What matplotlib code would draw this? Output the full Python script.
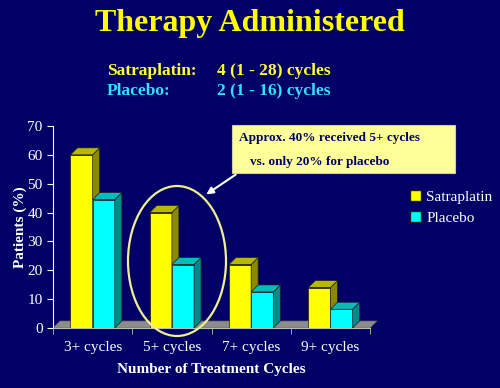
"""Therapy administered: 3D-style grouped bars on a navy slide background."""

import matplotlib

matplotlib.use("Agg")
import matplotlib.pyplot as plt
from matplotlib.patches import Ellipse, Patch, Polygon, Rectangle

categories = ["3+ cycles", "5+ cycles", "7+ cycles", "9+ cycles"]
satraplatin = [60, 40, 22, 14]
placebo = [44.5, 22, 12.5, 6.5]
y_ticks = [0, 10, 20, 30, 40, 50, 60, 70]

BG = "#000066"
SERIF = ["Liberation Serif", "DejaVu Serif"]
W, H = 500, 388


def fx(px):
    return px / W


def fy(py):
    return 1 - py / H


def bar3d(ax, x, width, height, front, top, side, dx, dy, z):
    ax.add_patch(Rectangle((x, 0), width, height, facecolor=front,
                           edgecolor="#202020", linewidth=0.5, zorder=z))
    ax.add_patch(Polygon([(x + width, 0), (x + width + dx, dy),
                          (x + width + dx, height + dy), (x + width, height)],
                         closed=True, facecolor=side, edgecolor="#202020",
                         linewidth=0.5, zorder=z))
    ax.add_patch(Polygon([(x, height), (x + dx, height + dy),
                          (x + width + dx, height + dy), (x + width, height)],
                         closed=True, facecolor=top, edgecolor="#202020",
                         linewidth=0.5, zorder=z))


fig = plt.figure(figsize=(5, 3.88), dpi=100, facecolor=BG)
ax = fig.add_axes([fx(53), fy(328), fx(370) - fx(53), fy(126) - fy(328)])
ax.set_facecolor("none")
ax.set_xlim(-0.5, 3.5)
ax.set_ylim(0, 70)

# depth of the fake 3D in data units (about 7 px each way)
dx = 7 / 79
dy = 7 / 2.886

ax.add_patch(Polygon([(-0.5, 0), (-0.5 + dx, dy), (3.5 + dx, dy), (3.5, 0)],
                     closed=True, facecolor="#8c8c8c", edgecolor="#606060",
                     linewidth=0.5, zorder=1, clip_on=False))

bw = 0.28
for i, (s, p) in enumerate(zip(satraplatin, placebo)):
    bar3d(ax, i - bw, bw, s, "#ffff00", "#b8b800", "#8a8a00", dx, dy, 2 + 2 * i)
    bar3d(ax, i, bw, p, "#00ffff", "#00bcbc", "#008a8a", dx, dy, 3 + 2 * i)

for side in ("top", "right"):
    ax.spines[side].set_visible(False)
ax.spines["left"].set_color("white")
ax.spines["bottom"].set_color("#bbbbbb")
ax.set_yticks(y_ticks)
ax.set_xticks(range(len(categories)))
ax.set_xticklabels(categories)
ax.set_xticks([-0.5, 0.5, 1.5, 2.5, 3.5], minor=True)
ax.tick_params(axis="x", which="major", length=0, pad=9)
ax.tick_params(axis="x", which="minor", length=4, color="#bbbbbb")
ax.tick_params(axis="y", length=4, color="white")
ax.tick_params(colors="white", labelsize=11)
for lbl in ax.get_xticklabels() + ax.get_yticklabels():
    lbl.set_fontfamily(SERIF)

ax.set_ylabel("Patients (%)", color="white", fontsize=11, fontweight="bold",
              family=SERIF, labelpad=0)
ax.set_xlabel("Number of Treatment Cycles", color="white", fontsize=11,
              fontweight="bold", family=SERIF, labelpad=7)

fig.text(0.5, fy(23), "Therapy Administered", color="#ffff00", fontsize=23,
         fontweight="bold", family=SERIF, ha="center", va="center")
fig.text(fx(107), fy(71), "Satraplatin:", color="#ffff33", fontsize=12.5,
         fontweight="bold", family=SERIF, va="center")
fig.text(fx(217), fy(71), "4 (1 - 28) cycles", color="#ffff33", fontsize=12.5,
         fontweight="bold", family=SERIF, va="center")
fig.text(fx(107), fy(91), "Placebo:", color="#33e0ff", fontsize=12.5,
         fontweight="bold", family=SERIF, va="center")
fig.text(fx(217), fy(91), "2 (1 - 16) cycles", color="#33e0ff", fontsize=12.5,
         fontweight="bold", family=SERIF, va="center")

# callout box
fig.patches.append(Rectangle((fx(232), fy(173)), fx(455) - fx(232), fy(125) - fy(173),
                             transform=fig.transFigure, facecolor="#ffff99",
                             edgecolor="#ccccaa", linewidth=0.8))
fig.text(fx(239), fy(138), "Approx. 40% received 5+ cycles", color="#000066",
         fontsize=9.5, fontweight="bold", family=SERIF, va="center")
fig.text(fx(250), fy(162), "vs. only 20% for placebo", color="#000066",
         fontsize=9.5, fontweight="bold", family=SERIF, va="center")
fig.patches.append(Ellipse((fx(177), fy(261)), fx(98), 150 / H,
                           transform=fig.transFigure, facecolor="none",
                           edgecolor="#f0f090", linewidth=1.6))
ax.annotate("", xy=(fx(204), fy(196)), xycoords="figure fraction",
            xytext=(fx(238), fy(173)), textcoords="figure fraction",
            arrowprops=dict(arrowstyle="-|>", color="white", lw=1.5,
                            mutation_scale=10))

handles = [Patch(facecolor="#ffff00", edgecolor="#202020", label="Satraplatin"),
           Patch(facecolor="#00ffff", edgecolor="#202020", label="Placebo")]
fig.legend(handles=handles, loc="upper left", bbox_to_anchor=(fx(410), fy(190)),
           frameon=False, borderaxespad=0, borderpad=0, handlelength=0.7,
           handleheight=0.7, handletextpad=0.35, labelspacing=0.5,
           prop={"family": SERIF, "size": 11}, labelcolor="white")

fig.savefig("out.png", dpi=100, facecolor=BG)
